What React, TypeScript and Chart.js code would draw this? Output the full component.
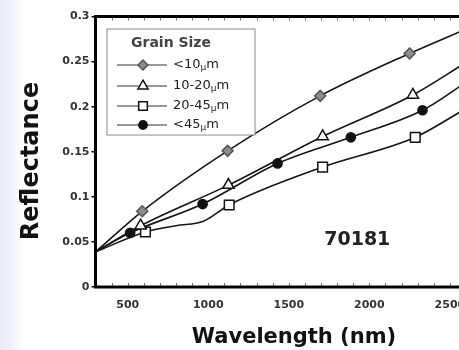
import { useEffect, useRef } from 'react';
import { Chart, registerables } from 'chart.js';
import { drawPoint } from 'chart.js/helpers';

Chart.register(...registerables);

// ---- data ----
const xTickLabels = [500, 1000, 1500, 2000, 2500];
const xMinorTicks = [300, 400, 500, 600, 700, 800, 900, 1000, 1100, 1200, 1300, 1400, 1500, 1600, 1700, 1800, 1900, 2000, 2100, 2200, 2300, 2400, 2500, 2600];
const yTickValues = [0, 0.05, 0.1, 0.15, 0.2, 0.25, 0.3];
const yTickLabels = ['0', '0.05', '0.1', '0.15', '0.2', '0.25', '0.3'];

const legendTitle = 'Grain Size';
const legendPrefixes = ['<10', '10-20', '20-45', '<45'];
const legendUnitMu = 'µ';
const legendUnitM = 'm';
const sampleLabel = '70181';
const xTitle = 'Wavelength (nm)';
const yTitle = 'Reflectance';

// <10 µm
const wlA = [300, 590, 1120, 1695, 2250, 2600];
const rA = [0.039, 0.084, 0.151, 0.212, 0.259, 0.286];
const mkA = [0, 1, 1, 1, 1, 0];
// 10-20 µm
const wlB = [300, 580, 1125, 1710, 2270, 2600];
const rB = [0.039, 0.068, 0.113, 0.167, 0.213, 0.249];
const mkB = [0, 1, 1, 1, 1, 0];
// 20-45 µm
const wlC = [300, 610, 800, 970, 1130, 1710, 2285, 2600];
const rC = [0.039, 0.061, 0.068, 0.073, 0.091, 0.133, 0.166, 0.198];
const mkC = [0, 1, 0, 0, 1, 1, 1, 0];
// <45 µm
const wlD = [300, 515, 965, 1430, 1885, 2330, 2600];
const rD = [0.039, 0.06, 0.092, 0.137, 0.166, 0.196, 0.227];
const mkD = [0, 1, 1, 1, 1, 1, 0];

const sampleAt = { x: 1925, y: 0.052 };

const FONT = '"DejaVu Sans", sans-serif';

const styles = [
  { pointStyle: 'rectRot', radius: 5.5, fill: '#8c8c8c', stroke: '#555' },
  { pointStyle: 'triangle', radius: 6.5, fill: '#ffffff', stroke: '#111' },
  { pointStyle: 'rect', radius: 6.8, fill: '#ffffff', stroke: '#111' },
  { pointStyle: 'circle', radius: 4.6, fill: '#111111', stroke: '#111' },
];

function mkDataset(wl: number[], r: number[], mk: number[], i: number) {
  const s = styles[i];
  return {
    label: legendPrefixes[i] + legendUnitMu + legendUnitM,
    data: wl.map((x, k) => ({ x, y: r[k] })),
    borderColor: '#151515',
    borderWidth: 1.6,
    cubicInterpolationMode: 'monotone' as const,
    pointStyle: s.pointStyle,
    pointRadius: mk.map((m) => (m ? s.radius : 0)),
    pointBackgroundColor: s.fill,
    pointBorderColor: s.stroke,
    pointBorderWidth: 1.5,
    fill: false,
  };
}

const decor = {
  id: 'decor',
  afterDatasetsDraw(chart: any) {
    const { ctx, chartArea: a, scales } = chart;
    const xs = scales.x;
    const ys = scales.y;
    ctx.save();
    // minor ticks (inward) on top and bottom
    ctx.strokeStyle = '#777';
    ctx.lineWidth = 1;
    xMinorTicks.forEach((v) => {
      const px = Math.round(xs.getPixelForValue(v)) + 0.5;
      ctx.beginPath();
      ctx.moveTo(px, a.top);
      ctx.lineTo(px, a.top + 4);
      ctx.moveTo(px, a.bottom);
      ctx.lineTo(px, a.bottom - 4);
      ctx.stroke();
    });
    // frame
    ctx.strokeStyle = '#000';
    ctx.lineWidth = 3;
    ctx.strokeRect(a.left, a.top, a.right - a.left, a.bottom - a.top);

    // legend
    const bx = a.left + 11.5;
    const by = a.top + 12.5;
    const bw = 148;
    const bh = 106;
    ctx.fillStyle = '#fff';
    ctx.fillRect(bx, by, bw, bh);
    ctx.strokeStyle = '#8a8a8a';
    ctx.lineWidth = 1;
    ctx.strokeRect(bx, by, bw, bh);
    ctx.fillStyle = '#444';
    ctx.font = 'bold 14px ' + FONT;
    ctx.textAlign = 'center';
    ctx.textBaseline = 'middle';
    ctx.fillText(legendTitle, bx + 64, by + 14);
    const rows = [by + 36, by + 57, by + 77, by + 96];
    rows.forEach((ry, i) => {
      const s = styles[i];
      ctx.strokeStyle = '#333';
      ctx.lineWidth = 1.2;
      ctx.beginPath();
      ctx.moveTo(bx + 10, ry);
      ctx.lineTo(bx + 60, ry);
      ctx.stroke();
      ctx.fillStyle = s.fill;
      ctx.strokeStyle = s.stroke;
      ctx.lineWidth = 1.5;
      drawPoint(ctx, { pointStyle: s.pointStyle as any, radius: s.radius * 0.9, rotation: 0, borderWidth: 1.5 } as any, bx + 36, ry);
      ctx.fillStyle = '#222';
      ctx.textAlign = 'left';
      ctx.textBaseline = 'middle';
      ctx.font = '13px ' + FONT;
      let tx = bx + 66;
      ctx.fillText(legendPrefixes[i], tx, ry);
      tx += ctx.measureText(legendPrefixes[i]).width;
      ctx.font = '9px ' + FONT;
      ctx.fillText(legendUnitMu, tx, ry + 3);
      tx += ctx.measureText(legendUnitMu).width;
      ctx.font = '13px ' + FONT;
      ctx.fillText(legendUnitM, tx, ry);
    });

    // sample label
    ctx.fillStyle = '#222';
    ctx.font = 'bold 19px ' + FONT;
    ctx.textAlign = 'center';
    ctx.textBaseline = 'middle';
    ctx.fillText(sampleLabel, xs.getPixelForValue(sampleAt.x), ys.getPixelForValue(sampleAt.y));

    // axis titles
    ctx.fillStyle = '#111';
    ctx.font = 'bold 21px ' + FONT;
    ctx.textBaseline = 'alphabetic';
    ctx.fillText(xTitle, 294, 343);
    ctx.save();
    ctx.translate(32, 161);
    ctx.rotate(-Math.PI / 2);
    ctx.font = 'bold 24px ' + FONT;
    ctx.textBaseline = 'middle';
    ctx.fillText(yTitle, 0, 0);
    ctx.restore();
    ctx.restore();
  },
};

export default function App() {
  const ref = useRef<HTMLCanvasElement>(null);
  useEffect(() => {
    if (!ref.current) return;
    const chart = new Chart(ref.current, {
      type: 'line',
      data: {
        datasets: [
          mkDataset(wlA, rA, mkA, 0),
          mkDataset(wlB, rB, mkB, 1),
          mkDataset(wlC, rC, mkC, 2),
          mkDataset(wlD, rD, mkD, 3),
        ] as any,
      },
      options: {
        animation: false,
        responsive: false,
        devicePixelRatio: 1,
        layout: { padding: { top: 16.5, right: 4, left: 0, bottom: 0 } },
        plugins: { legend: { display: false }, tooltip: { enabled: false } },
        scales: {
          x: {
            type: 'linear',
            min: 300,
            max: 2600,
            afterBuildTicks: (s: any) => {
              s.ticks = xTickLabels.map((v) => ({ value: v }));
            },
            afterFit: (s: any) => {
              s.height = 63;
              s.paddingLeft = 0;
              s.paddingRight = 0;
            },
            ticks: {
              autoSkip: false,
              maxRotation: 0,
              padding: 12,
              color: '#333',
              font: { family: FONT, size: 11, weight: 'bold' },
              callback: (v: any) => String(v),
            },
            grid: { display: false, drawTicks: false },
            border: { display: false },
          },
          y: {
            type: 'linear',
            min: 0,
            max: 0.3,
            afterBuildTicks: (s: any) => {
              s.ticks = yTickValues.map((v) => ({ value: v }));
            },
            afterFit: (s: any) => {
              s.width = 95.5;
              s.paddingTop = 0;
              s.paddingBottom = 0;
            },
            ticks: {
              padding: 2,
              color: '#333',
              font: { family: FONT, size: 11, weight: 'bold' },
              callback: (v: any) => {
                const i = yTickValues.findIndex((t) => Math.abs(t - v) < 1e-9);
                return i >= 0 ? yTickLabels[i] : '';
              },
            },
            grid: { drawOnChartArea: false, drawTicks: true, tickLength: 4, color: '#000', lineWidth: 1.5 },
            border: { display: false },
          },
        },
      } as any,
      plugins: [decor],
    });
    return () => chart.destroy();
  }, []);

  return (
    <div
      style={{
        position: 'fixed',
        left: 0,
        top: 0,
        width: 459,
        height: 350,
        overflow: 'hidden',
        background: 'linear-gradient(to right, #e6edf7 0px, #edf2f9 11px, #ffffff 22px)',
      }}
    >
      <canvas ref={ref} width={470} height={350} style={{ position: 'absolute', left: 0, top: 0, width: 470, height: 350 }} />
    </div>
  );
}
